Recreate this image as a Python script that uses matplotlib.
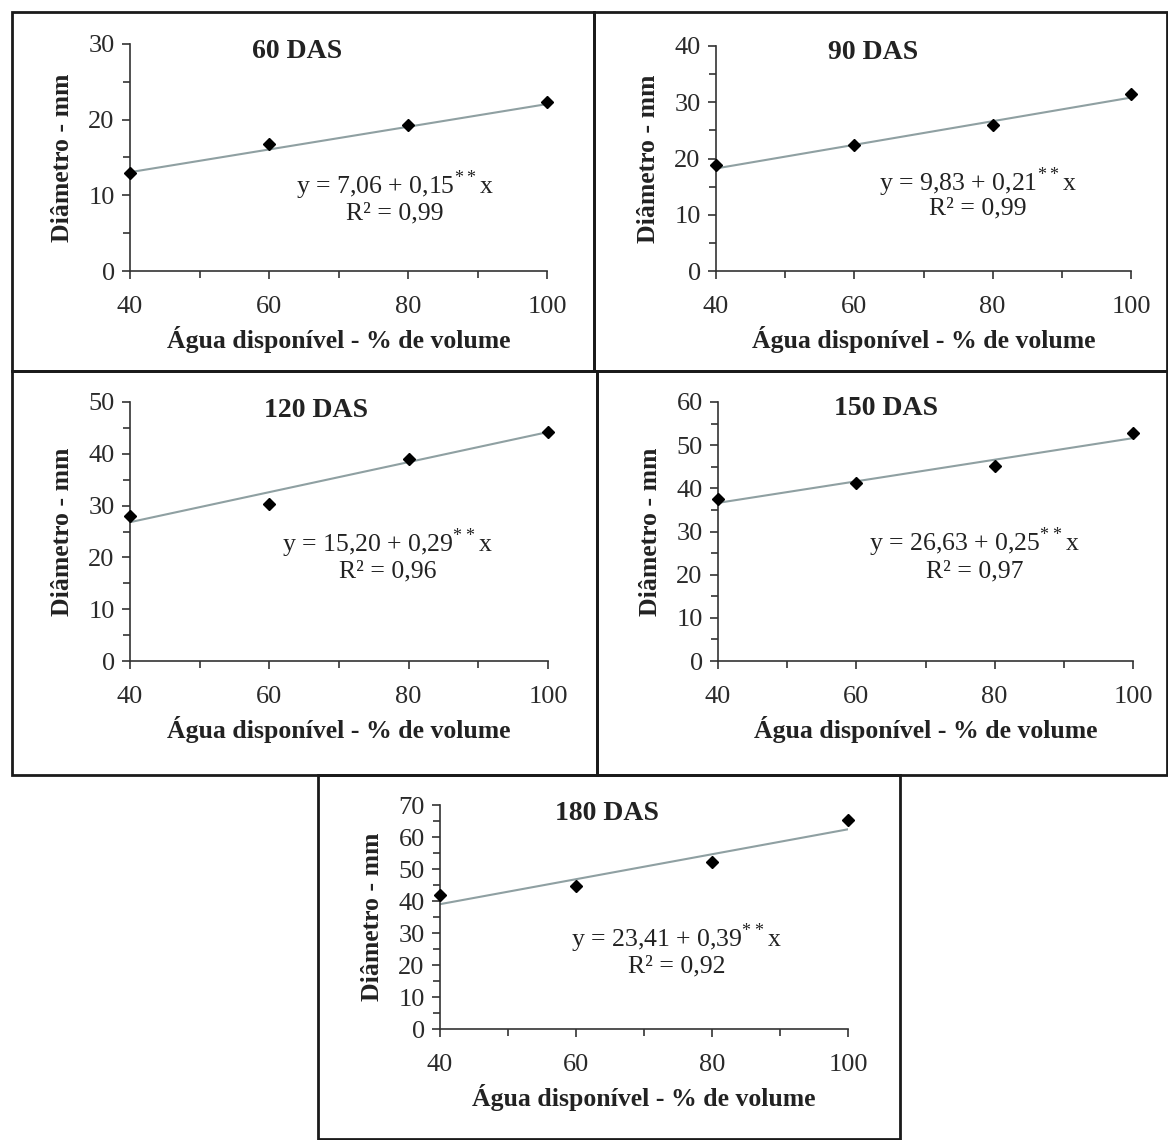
import matplotlib
matplotlib.use('Agg')
import matplotlib.pyplot as plt
from matplotlib.patches import Rectangle
from matplotlib.ticker import MultipleLocator

plt.rcParams['font.family'] = ['Liberation Serif', 'DejaVu Serif']
plt.rcParams['mathtext.fontset'] = 'custom'
plt.rcParams['mathtext.rm'] = 'Liberation Serif'

# data
agua = [40, 60, 80, 100]
titles = ['60 DAS', '90 DAS', '120 DAS', '150 DAS', '180 DAS']
diam = [
    [12.9, 16.8, 19.3, 22.3],
    [18.8, 22.4, 26.0, 31.5],
    [28.0, 30.4, 39.0, 44.2],
    [37.5, 41.3, 45.2, 52.8],
    [41.8, 44.6, 52.2, 65.3],
]
intercepts = [7.06, 9.83, 15.20, 26.63, 23.41]
slopes = [0.15, 0.21, 0.29, 0.25, 0.39]
r2 = ['0,99', '0,99', '0,96', '0,97', '0,92']
ymax = [30, 40, 50, 60, 70]

W, H = 1168, 1140
fig = plt.figure(figsize=(W / 100, H / 100), dpi=100)

# axes boxes in pixels: left, right, top, bottom
ax_px = [
    (130, 547, 44, 271),
    (716, 1131, 46, 271),
    (130, 548, 402, 661),
    (718, 1133, 402, 661),
    (440, 848, 805, 1029),
]
# panel frames in pixels: left, right, top, bottom
frame_px = [
    (12, 594, 12, 371),
    (594, 1167, 12, 371),
    (12, 597, 371, 775),
    (597, 1167, 371, 775),
    (318, 900, 775, 1139),
]
title_pos = [(0.40, 0.965), (0.378, 0.973), (0.445, 0.969), (0.405, 0.973), (0.409, 0.964)]
eq_pos = [(0.636, 0.379, 0.255), (0.631, 0.396, 0.276), (0.617, 0.456, 0.344),
          (0.619, 0.459, 0.344), (0.581, 0.406, 0.281)]

for l, r, t, b in frame_px:
    fig.patches.append(Rectangle((l / W, 1 - b / H), (r - l) / W, (b - t) / H,
                                 transform=fig.transFigure, fill=False,
                                 edgecolor='#1a1a1a', linewidth=2.0))

for i in range(5):
    l, r, t, b = ax_px[i]
    ax = fig.add_axes([l / W, 1 - b / H, (r - l) / W, (b - t) / H])
    fit = [intercepts[i] + slopes[i] * x for x in agua]
    ax.plot([agua[0], agua[-1]], [fit[0], fit[-1]], color='#8fa0a2', linewidth=1.5, zorder=2)
    ax.plot(agua, diam[i], linestyle='none', marker='D', markersize=6.5,
            color='black', zorder=3, clip_on=False)
    ax.set_xlim(40, 100)
    ax.set_ylim(0, ymax[i])
    ax.xaxis.set_major_locator(MultipleLocator(20))
    ax.xaxis.set_minor_locator(MultipleLocator(10))
    ax.yaxis.set_major_locator(MultipleLocator(10))
    ax.yaxis.set_minor_locator(MultipleLocator(5))
    for s in ['top', 'right']:
        ax.spines[s].set_visible(False)
    for s in ['left', 'bottom']:
        ax.spines[s].set_color('#333333')
        ax.spines[s].set_linewidth(1.2)
    ax.tick_params(axis='both', which='both', direction='out', color='#333333',
                   width=1.2, labelsize=19, labelcolor='#2a2a2a')
    ax.tick_params(axis='both', which='major', length=6)
    ax.tick_params(axis='x', which='major', pad=12)
    ax.tick_params(axis='y', which='major', pad=5)
    ax.tick_params(axis='both', which='minor', length=5)
    ax.set_xlabel('Água disponível - % de volume', fontsize=18.5, fontweight='bold',
                  color='#222222', labelpad=6)
    ax.set_ylabel('Diâmetro - mm', fontsize=18.5, fontweight='bold', color='#222222',
                  labelpad=10)
    tx, ty = title_pos[i]
    ax.text(tx, ty, titles[i], transform=ax.transAxes, ha='center', va='center',
            fontsize=20, fontweight='bold', color='#222222')
    ex, ey, ry = eq_pos[i]
    a_str = f'{intercepts[i]:.2f}'.replace('.', ',')
    b_str = f'{slopes[i]:.2f}'.replace('.', ',')
    ax.text(ex, ey, 'y = ' + a_str + ' + ' + b_str + r'$^{**}$' + 'x', transform=ax.transAxes,
            ha='center', va='center', fontsize=18.5, color='#222222')
    ax.text(ex, ry, 'R² = ' + r2[i], transform=ax.transAxes, ha='center', va='center',
            fontsize=18.5, color='#222222')

fig.savefig('out.png', dpi=100)
